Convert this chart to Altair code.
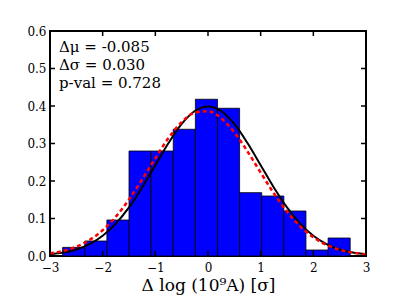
import altair as alt
import pandas as pd

# Histogram bins (left edges, right edges) and normalised heights
bin_lo = [-2.76, -2.34, -1.92, -1.50, -1.08, -0.66, -0.24, 0.18, 0.60, 1.02, 1.44, 1.86, 2.28]
bin_hi = [-2.34, -1.92, -1.50, -1.08, -0.66, -0.24, 0.18, 0.60, 1.02, 1.44, 1.86, 2.28, 2.70]
heights = [0.023, 0.040, 0.096, 0.280, 0.280, 0.338, 0.418, 0.394, 0.169, 0.160, 0.120, 0.016, 0.048]

# Curves
curve_x = [-3.0, -2.75, -2.5, -2.25, -2.0, -1.75, -1.5, -1.25, -1.0, -0.75, -0.5, -0.25, 0.0,
           0.25, 0.5, 0.75, 1.0, 1.25, 1.5, 1.75, 2.0, 2.25, 2.5, 2.75, 3.0]
black_y = [0.0044, 0.0091, 0.0175, 0.0317, 0.0540, 0.0863, 0.1295, 0.1826, 0.2420, 0.3011, 0.3521, 0.3867, 0.3989,
           0.3867, 0.3521, 0.3011, 0.2420, 0.1826, 0.1295, 0.0863, 0.0540, 0.0317, 0.0175, 0.0091, 0.0044]
red_y = [0.0071, 0.0136, 0.0248, 0.0425, 0.0688, 0.1049, 0.1507, 0.2043, 0.2610, 0.3145, 0.3571, 0.3824, 0.3860,
         0.3674, 0.3296, 0.2788, 0.2224, 0.1672, 0.1185, 0.0792, 0.0499, 0.0297, 0.0166, 0.0088, 0.0044]

x_ticks = [-3, -2, -1, 0, 1, 2, 3]
y_ticks = [0.0, 0.1, 0.2, 0.3, 0.4, 0.5, 0.6]
annot = ["Δμ = -0.085", "Δσ = 0.030", "p-val = 0.728"]

W, H = 316, 225
FONT = "DejaVu Serif"

xs = alt.Scale(domain=[-3, 3], nice=False, zero=False)
ys = alt.Scale(domain=[0, 0.6], nice=False)

ax_x = alt.Axis(
    values=x_ticks, tickSize=0, labelPadding=6, domain=False, grid=False,
    labelFont=FONT, labelFontSize=12, labelColor="black", labelOverlap=False,
    labelExpr="replace(datum.label, '-', '−')",
    title="Δ log (10⁹A) [σ]", titleFont=FONT, titleFontSize=17,
    titleFontWeight="normal", titleColor="black", titlePadding=4)
ax_y = alt.Axis(
    values=y_ticks, format=".1f", tickSize=0, labelPadding=4, domain=False, grid=False,
    labelFont=FONT, labelFontSize=12, labelColor="black", labelOverlap=False, title=None)

bars_df = pd.DataFrame({"lo": bin_lo, "hi": bin_hi, "h": heights})
black_df = pd.DataFrame({"x": curve_x, "y": black_y})
red_df = pd.DataFrame({"x": curve_x, "y": red_y})
xt_df = pd.DataFrame({"t": x_ticks})
yt_df = pd.DataFrame({"t": y_ticks})

bars = alt.Chart(bars_df).mark_bar(color="#0000FF", stroke="black", strokeWidth=0.8).encode(
    x=alt.X("lo:Q", scale=xs, axis=ax_x),
    x2="hi:Q",
    y=alt.Y("h:Q", scale=ys, axis=ax_y),
    y2=alt.datum(0),
)

black = alt.Chart(black_df).mark_line(color="black", strokeWidth=2, interpolate="monotone").encode(
    x=alt.X("x:Q", scale=xs, axis=ax_x), y=alt.Y("y:Q", scale=ys, axis=ax_y))
red = alt.Chart(red_df).mark_line(color="#FF0000", strokeWidth=2.5, strokeDash=[4, 3],
                                   interpolate="monotone").encode(
    x=alt.X("x:Q", scale=xs, axis=ax_x), y=alt.Y("y:Q", scale=ys, axis=ax_y))

tb = alt.Chart(xt_df).mark_rule(color="black", strokeWidth=1.5).encode(
    x=alt.X("t:Q", scale=xs, axis=ax_x), y=alt.value(H), y2=alt.value(H - 5))
tt = alt.Chart(xt_df).mark_rule(color="black", strokeWidth=1.5).encode(
    x=alt.X("t:Q", scale=xs, axis=ax_x), y=alt.value(0), y2=alt.value(5))
tl = alt.Chart(yt_df).mark_rule(color="black", strokeWidth=1.5).encode(
    y=alt.Y("t:Q", scale=ys, axis=ax_y), x=alt.value(0), x2=alt.value(5))
tr = alt.Chart(yt_df).mark_rule(color="black", strokeWidth=1.5).encode(
    y=alt.Y("t:Q", scale=ys, axis=ax_y), x=alt.value(W), x2=alt.value(W - 5))

anns = []
for i, txt in enumerate(annot):
    anns.append(alt.Chart(pd.DataFrame({"txt": [txt]})).mark_text(
        align="left", baseline="alphabetic", font=FONT, fontSize=15, color="black").encode(
        text="txt:N", x=alt.value(9), y=alt.value(21 + 18 * i)))

chart = alt.layer(bars, black, red, tb, tt, tl, tr, *anns).properties(
    width=W, height=H,
    autosize=alt.AutoSizeParams(type="none"),
    padding={"left": 42, "top": 23, "right": 30, "bottom": 40},
).configure_view(stroke="black", strokeWidth=2).configure_axis(labelFlush=False)

chart.save("out.html", embed_options={"renderer": "svg", "actions": False})
